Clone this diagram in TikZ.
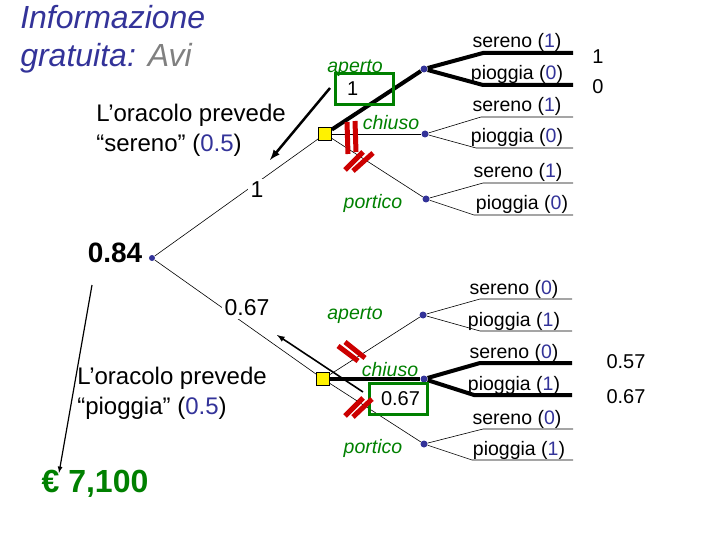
\documentclass[tikz,border=0pt]{standalone}
\usepackage{fontspec}
\setmainfont{Liberation Sans}

\definecolor{titleblue}{RGB}{51,51,153}
\definecolor{actgreen}{RGB}{0,128,0}
\definecolor{cutred}{RGB}{204,0,0}

\tikzset{every picture/.style={line width=0.6pt}}
\tikzset{
  chance/.style={circle, fill=titleblue, inner sep=0pt, minimum size=7pt},
  decision/.style={rectangle, draw=black, fill=yellow, inner sep=0pt, minimum size=13pt},
  act/.style={text=actgreen, font=\itshape\fontsize{19.5}{23}\selectfont},
  outc/.style={anchor=base, inner sep=0pt, font=\fontsize{19.5}{23}\selectfont},
  val/.style={font=\fontsize{20}{24}\selectfont},
  valbox/.style={draw=actgreen, line width=3pt, text width=34pt, align=left,
    inner xsep=12pt, minimum height=31pt, font=\fontsize{20}{24}\selectfont},
  cut/.style={cutred, line width=5pt},
  best/.style={line width=4pt},
  oracle/.style={anchor=north west, inner sep=0pt, align=left,
    font=\fontsize{24}{30}\selectfont},
}
\newcommand{\pv}[1]{\textcolor{titleblue}{#1}}

\begin{document}
\begin{tikzpicture}[x=1pt, y=-1pt]
    \useasboundingbox (0,0) rectangle (720,540);

    % titolo e previsioni dell'oracolo
    \node[anchor=north west, inner sep=0pt, align=left, text=titleblue,
      font=\itshape\fontsize{32}{38}\selectfont] (titolo) at (20,5)
      {Informazione\\gratuita: \textcolor{gray}{Avi}};
    \node[oracle] (os) at (96,104) {L’oracolo prevede\\“sereno” (\pv{0.5})};
    \node[oracle] (op) at (77,367) {L’oracolo prevede\\“pioggia” (\pv{0.5})};
    \node[text=actgreen, font=\bfseries\fontsize{32}{38}\selectfont] (euro) at (95,484) {€ 7,100};
    \node[font=\bfseries\fontsize{28}{32}\selectfont] (rv) at (115,253) {0.84};

    % nodi dell'albero
    \node[chance, minimum size=6pt] (r) at (152,258) {};
    \node[decision] (ds) at (325,134) {};
    \node[decision] (dp) at (323,379) {};
    \node[chance] (sa) at (424,69) {};
    \node[chance] (sc) at (425,134) {};
    \node[chance] (sp) at (426,199) {};
    \node[chance] (pa) at (423,315) {};
    \node[chance] (pc) at (424,379) {};
    \node[chance] (pp) at (424,444) {};

    \coordinate (sa-s) at (573,53);  \coordinate (sa-p) at (573,85);
    \coordinate (sc-s) at (573,117); \coordinate (sc-p) at (573,148);
    \coordinate (sp-s) at (573,183); \coordinate (sp-p) at (573,215);
    \coordinate (pa-s) at (572,299); \coordinate (pa-p) at (572,331);
    \coordinate (pc-s) at (572,363); \coordinate (pc-p) at (572,395);
    \coordinate (pp-s) at (573,429); \coordinate (pp-p) at (573,460);

    \draw (r) -- (ds);
    \draw (r) -- (dp);
    \draw[best] (ds) -- (sa);
    \draw (ds) -- (sc);
    \draw (ds) -- (sp);
    \draw (dp) -- (pa);
    \draw[best] (dp) -- (pc);
    \draw (dp) -- (pp);

    \draw[best] (sa) -- ([xshift=-90pt]sa-s) -- (sa-s);
    \draw[best] (sa) -- ([xshift=-90pt]sa-p) -- (sa-p);
    \draw (sc) -- ([xshift=-92pt]sc-s) -- (sc-s);
    \draw (sc) -- ([xshift=-97pt]sc-p) -- (sc-p);
    \draw (sp) -- ([xshift=-90pt]sp-s) -- (sp-s);
    \draw (sp) -- ([xshift=-99pt]sp-p) -- (sp-p);
    \draw (pa) -- ([xshift=-92pt]pa-s) -- (pa-s);
    \draw (pa) -- ([xshift=-92pt]pa-p) -- (pa-p);
    \draw[best] (pc) -- ([xshift=-92pt]pc-s) -- (pc-s);
    \draw[best] (pc) -- ([xshift=-98pt]pc-p) -- (pc-p);
    \draw (pp) -- ([xshift=-90pt]pp-s) -- (pp-s);
    \draw (pp) -- ([xshift=-101pt]pp-p) -- (pp-p);

    % valori sui rami della radice
    \node[fill=white, inner sep=3pt, font=\fontsize{23}{27}\selectfont] (l1) at (257,190) {1};
    \node[fill=white, inner sep=3pt, font=\fontsize{23}{27}\selectfont] (l2) at (247,308) {0.67};

    % scelte
    \node[act] (sa-a) at (355,68) {aperto};
    \node[act] (sc-a) at (391,123) {chiuso};
    \node[act] (sp-a) at (373,203) {portico};
    \node[act] (pa-a) at (355,315) {aperto};
    \node[act] (pc-a) at (390,370) {chiuso};
    \node[act] (pp-a) at (373,448) {portico};

    % esiti
    \node[outc] (sa-sl) at ([xshift=-56pt,yshift=5pt]sa-s) {sereno (\pv{1})};
    \node[outc] (sa-pl) at ([xshift=-56pt,yshift=5pt]sa-p) {pioggia (\pv{0})};
    \node[outc] (sc-sl) at ([xshift=-56pt,yshift=5pt]sc-s) {sereno (\pv{1})};
    \node[outc] (sc-pl) at ([xshift=-56pt,yshift=5pt]sc-p) {pioggia (\pv{0})};
    \node[outc] (sp-sl) at ([xshift=-55pt,yshift=5pt]sp-s) {sereno (\pv{1})};
    \node[outc] (sp-pl) at ([xshift=-51pt,yshift=5pt]sp-p) {pioggia (\pv{0})};
    \node[outc] (pa-sl) at ([xshift=-58pt,yshift=5pt]pa-s) {sereno (\pv{0})};
    \node[outc] (pa-pl) at ([xshift=-58pt,yshift=5pt]pa-p) {pioggia (\pv{1})};
    \node[outc] (pc-sl) at ([xshift=-58pt,yshift=5pt]pc-s) {sereno (\pv{0})};
    \node[outc] (pc-pl) at ([xshift=-58pt,yshift=5pt]pc-p) {pioggia (\pv{1})};
    \node[outc] (pp-sl) at ([xshift=-56pt,yshift=5pt]pp-s) {sereno (\pv{0})};
    \node[outc] (pp-pl) at ([xshift=-54pt,yshift=5pt]pp-p) {pioggia (\pv{1})};

    \node[val] (v1) at (598,57) {1};
    \node[val] (v2) at (598,87) {0};
    \node[val] (v3) at (626,362) {0.57};
    \node[val] (v4) at (626,397) {0.67};

    % valori attesi delle decisioni
    \node[valbox] (b1) at (364,89) {1};
    \node[valbox] (b2) at (398,399) {0.67};

    % rami scartati
    \draw[cut] (347,122) -- (348,154);
    \draw[cut] (355,121) -- (356,152);
    \draw[cut] (345,170) -- (363,152);
    \draw[cut] (353,171) -- (373,153);
    \draw[cut] (338,346) -- (358,361);
    \draw[cut] (345,342) -- (365,358);
    \draw[cut] (345,416) -- (363,398);
    \draw[cut] (353,417) -- (372,399);

    % frecce
    \coordinate (f1) at (330,88);  \coordinate (f1e) at (270,160);
    \coordinate (f2) at (363,392); \coordinate (f2e) at (277,335);
    \coordinate (f3) at (92,285);  \coordinate (f3e) at (59,473);
    \draw[-latex, line width=2.5pt] (f1) -- (f1e);
    \draw[-latex, line width=1.6pt] (f2) -- (f2e);
    \draw[-latex, line width=1.2pt] (f3) -- (f3e);
\end{tikzpicture}
\end{document}
